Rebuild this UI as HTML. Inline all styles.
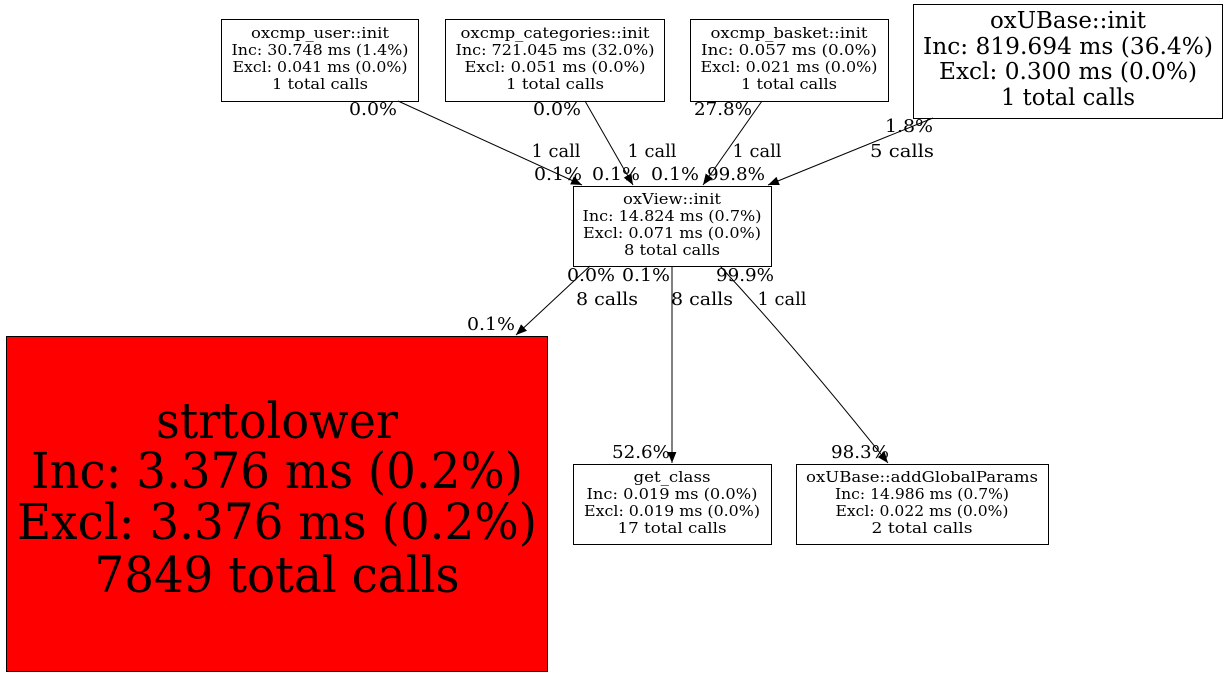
<!DOCTYPE html>
<html><head><meta charset="utf-8"><style>
html,body{margin:0;padding:0;background:#fff;}
svg{display:block;font-family:"DejaVu Serif","Liberation Serif",serif;}
</style></head><body>
<svg width="1228" height="677" viewBox="0 0 1228 677" xmlns="http://www.w3.org/2000/svg">
<defs><marker id="a" viewBox="0 0 10 10" refX="10" refY="5" markerWidth="11" markerHeight="11" markerUnits="userSpaceOnUse" orient="auto"><path d="M0,1 L10,5 L0,9 z" fill="#000"/></marker></defs>
<g fill="none" stroke="#000" stroke-width="1">
<rect x="221.5" y="19.5" width="197" height="82"/>
<rect x="445.5" y="19.5" width="219" height="82"/>
<rect x="690.5" y="19.5" width="198" height="82"/>
<rect x="913.5" y="4.5" width="309" height="114"/>
<rect x="573.5" y="186.5" width="198" height="80"/>
<rect x="6.5" y="336.5" width="541" height="335" fill="#ff0000"/>
<rect x="573.5" y="464.5" width="198" height="80"/>
<rect x="796.5" y="464.5" width="252" height="80"/>
<path d="M398,101 L582,185" marker-end="url(#a)"/>
<path d="M585,101 L633,185" marker-end="url(#a)"/>
<path d="M762,101 L703,185" marker-end="url(#a)"/>
<path d="M933,118 L768,185" marker-end="url(#a)"/>
<path d="M590,266 L516,335" marker-end="url(#a)"/>
<path d="M672,266 L672,463" marker-end="url(#a)"/>
<path d="M720,266 C770,320 830,390 888,463" marker-end="url(#a)"/>
</g>
<g text-anchor="middle" font-size="15" lengthAdjust="spacingAndGlyphs">
<text x="320" y="38" textLength="138" lengthAdjust="spacingAndGlyphs">oxcmp_user::init</text><text x="320" y="55" textLength="177" lengthAdjust="spacingAndGlyphs">Inc: 30.748 ms (1.4%)</text><text x="320" y="72" textLength="175" lengthAdjust="spacingAndGlyphs">Excl: 0.041 ms (0.0%)</text><text x="320" y="89" textLength="96" lengthAdjust="spacingAndGlyphs">1 total calls</text>
<text x="555" y="38" textLength="189" lengthAdjust="spacingAndGlyphs">oxcmp_categories::init</text><text x="555" y="55" textLength="199" lengthAdjust="spacingAndGlyphs">Inc: 721.045 ms (32.0%)</text><text x="555" y="72" textLength="181" lengthAdjust="spacingAndGlyphs">Excl: 0.051 ms (0.0%)</text><text x="555" y="89" textLength="98" lengthAdjust="spacingAndGlyphs">1 total calls</text>
<text x="789" y="38" textLength="157" lengthAdjust="spacingAndGlyphs">oxcmp_basket::init</text><text x="789" y="55" textLength="176" lengthAdjust="spacingAndGlyphs">Inc: 0.057 ms (0.0%)</text><text x="789" y="72" textLength="177" lengthAdjust="spacingAndGlyphs">Excl: 0.021 ms (0.0%)</text><text x="789" y="89" textLength="96" lengthAdjust="spacingAndGlyphs">1 total calls</text>
<text x="672" y="204" textLength="98" lengthAdjust="spacingAndGlyphs">oxView::init</text><text x="672" y="221" textLength="179" lengthAdjust="spacingAndGlyphs">Inc: 14.824 ms (0.7%)</text><text x="672" y="238" textLength="178" lengthAdjust="spacingAndGlyphs">Excl: 0.071 ms (0.0%)</text><text x="672" y="255" textLength="96" lengthAdjust="spacingAndGlyphs">8 total calls</text>
<text x="672" y="482" textLength="77" lengthAdjust="spacingAndGlyphs">get_class</text><text x="672" y="499" textLength="171" lengthAdjust="spacingAndGlyphs">Inc: 0.019 ms (0.0%)</text><text x="672" y="516" textLength="176" lengthAdjust="spacingAndGlyphs">Excl: 0.019 ms (0.0%)</text><text x="672" y="533" textLength="109" lengthAdjust="spacingAndGlyphs">17 total calls</text>
<text x="922" y="482" textLength="232" lengthAdjust="spacingAndGlyphs">oxUBase::addGlobalParams</text><text x="922" y="499" textLength="174" lengthAdjust="spacingAndGlyphs">Inc: 14.986 ms (0.7%)</text><text x="922" y="516" textLength="173" lengthAdjust="spacingAndGlyphs">Excl: 0.022 ms (0.0%)</text><text x="922" y="533" textLength="101" lengthAdjust="spacingAndGlyphs">2 total calls</text>
</g>
<g text-anchor="middle" font-size="23">
<text x="1068" y="28" textLength="156" lengthAdjust="spacingAndGlyphs">oxUBase::init</text><text x="1068" y="54" textLength="290" lengthAdjust="spacingAndGlyphs">Inc: 819.694 ms (36.4%)</text><text x="1068" y="79" textLength="258" lengthAdjust="spacingAndGlyphs">Excl: 0.300 ms (0.0%)</text><text x="1068" y="105" textLength="134" lengthAdjust="spacingAndGlyphs">1 total calls</text>
</g>
<g text-anchor="middle" font-size="50">
<text x="277" y="438" textLength="242" lengthAdjust="spacingAndGlyphs">strtolower</text><text x="277" y="488" textLength="492" lengthAdjust="spacingAndGlyphs">Inc: 3.376 ms (0.2%)</text><text x="277" y="539" textLength="520" lengthAdjust="spacingAndGlyphs">Excl: 3.376 ms (0.2%)</text><text x="277" y="592" textLength="365" lengthAdjust="spacingAndGlyphs">7849 total calls</text>
</g>
<g text-anchor="middle" font-size="18">
<text x="373" y="115" textLength="48" lengthAdjust="spacingAndGlyphs">0.0%</text><text x="556" y="157" textLength="49" lengthAdjust="spacingAndGlyphs">1 call</text><text x="558" y="180" textLength="48" lengthAdjust="spacingAndGlyphs">0.1%</text>
<text x="557" y="115" textLength="48" lengthAdjust="spacingAndGlyphs">0.0%</text><text x="652" y="157" textLength="49" lengthAdjust="spacingAndGlyphs">1 call</text><text x="616" y="180" textLength="48" lengthAdjust="spacingAndGlyphs">0.1%</text>
<text x="723" y="115" textLength="58" lengthAdjust="spacingAndGlyphs">27.8%</text><text x="757" y="157" textLength="49" lengthAdjust="spacingAndGlyphs">1 call</text><text x="675" y="180" textLength="48" lengthAdjust="spacingAndGlyphs">0.1%</text>
<text x="909" y="132" textLength="48" lengthAdjust="spacingAndGlyphs">1.8%</text><text x="902" y="157" textLength="64" lengthAdjust="spacingAndGlyphs">5 calls</text><text x="736" y="180" textLength="58" lengthAdjust="spacingAndGlyphs">99.8%</text>
<text x="591" y="281" textLength="48" lengthAdjust="spacingAndGlyphs">0.0%</text><text x="607" y="305" textLength="62" lengthAdjust="spacingAndGlyphs">8 calls</text><text x="491" y="330" textLength="48" lengthAdjust="spacingAndGlyphs">0.1%</text>
<text x="646" y="281" textLength="48" lengthAdjust="spacingAndGlyphs">0.1%</text><text x="702" y="305" textLength="62" lengthAdjust="spacingAndGlyphs">8 calls</text><text x="641" y="458" textLength="58" lengthAdjust="spacingAndGlyphs">52.6%</text>
<text x="745" y="281" textLength="58" lengthAdjust="spacingAndGlyphs">99.9%</text><text x="782" y="305" textLength="49" lengthAdjust="spacingAndGlyphs">1 call</text><text x="860" y="458" textLength="58" lengthAdjust="spacingAndGlyphs">98.3%</text>
</g>
</svg>
</body></html>
